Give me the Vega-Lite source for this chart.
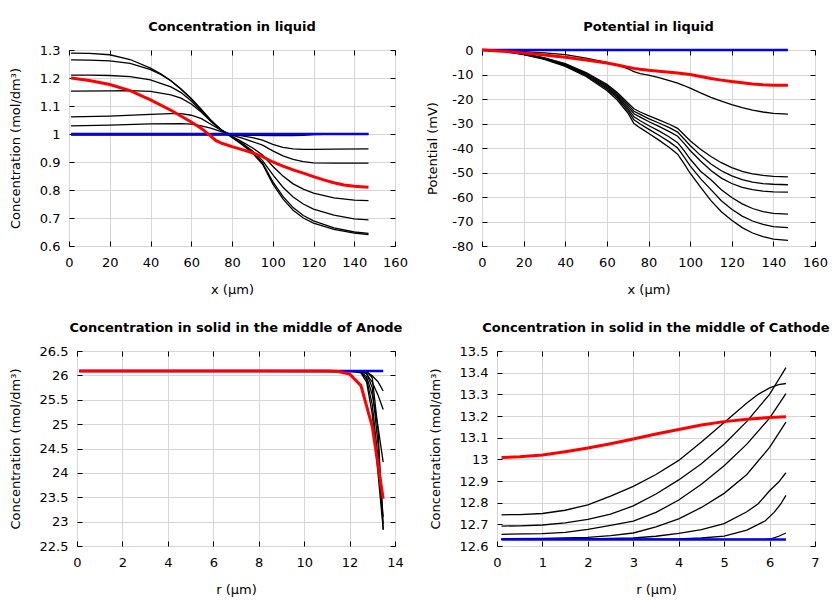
{
"$schema": "https://vega.github.io/schema/vega-lite/v6.json",
"padding": {"left": 8, "top": 20, "right": 5, "bottom": 5},
"config": {
 "font": "DejaVu Sans",
 "view": {"stroke": "#000", "strokeWidth": 1},
 "axis": {"labelFont": "DejaVu Sans", "titleFont": "DejaVu Sans", "labelFontSize": 13, "titleFontSize": 13, "titleFontWeight": "normal", "labelColor": "#000", "titleColor": "#000", "tickColor": "#000", "gridColor": "#d6d6d6", "domain": false, "labelFlush": false, "labelOverlap": false, "labelBound": false, "tickSize": -5, "format": "~r"},
 "title": {"font": "DejaVu Sans", "fontSize": 13, "fontWeight": "bold", "color": "#000", "frame": "group", "anchor": "middle", "offset": 10}
},
"datasets": {
 "liq": [
  {"s":"b0","k":"b","x":1,"y":0.996},{"s":"b0","k":"b","x":60,"y":0.996},{"s":"b0","k":"b","x":72,"y":0.996},{"s":"b0","k":"b","x":80,"y":0.996},{"s":"b0","k":"b","x":90,"y":0.995},{"s":"b0","k":"b","x":100,"y":0.994},{"s":"b0","k":"b","x":110,"y":0.994},{"s":"b0","k":"b","x":115,"y":0.995},{"s":"b0","k":"b","x":120,"y":0.998},{"s":"b0","k":"b","x":130,"y":1.0},{"s":"b0","k":"b","x":147,"y":1.0},
  {"s":"c1","k":"b","x":1,"y":1.289},{"s":"c1","k":"b","x":10,"y":1.288},{"s":"c1","k":"b","x":20,"y":1.283},{"s":"c1","k":"b","x":30,"y":1.266},{"s":"c1","k":"b","x":40,"y":1.235},{"s":"c1","k":"b","x":45,"y":1.215},{"s":"c1","k":"b","x":50,"y":1.19},{"s":"c1","k":"b","x":55,"y":1.16},{"s":"c1","k":"b","x":60,"y":1.125},{"s":"c1","k":"b","x":65,"y":1.085},{"s":"c1","k":"b","x":70,"y":1.045},{"s":"c1","k":"b","x":75,"y":1.012},{"s":"c1","k":"b","x":80,"y":0.988},{"s":"c1","k":"b","x":85,"y":0.962},{"s":"c1","k":"b","x":90,"y":0.932},{"s":"c1","k":"b","x":95,"y":0.892},{"s":"c1","k":"b","x":100,"y":0.822},{"s":"c1","k":"b","x":105,"y":0.768},{"s":"c1","k":"b","x":110,"y":0.728},{"s":"c1","k":"b","x":115,"y":0.7},{"s":"c1","k":"b","x":120,"y":0.682},{"s":"c1","k":"b","x":130,"y":0.659},{"s":"c1","k":"b","x":140,"y":0.646},{"s":"c1","k":"b","x":147,"y":0.641},
  {"s":"c2","k":"b","x":1,"y":1.265},{"s":"c2","k":"b","x":10,"y":1.264},{"s":"c2","k":"b","x":20,"y":1.261},{"s":"c2","k":"b","x":30,"y":1.252},{"s":"c2","k":"b","x":40,"y":1.23},{"s":"c2","k":"b","x":45,"y":1.213},{"s":"c2","k":"b","x":50,"y":1.19},{"s":"c2","k":"b","x":55,"y":1.161},{"s":"c2","k":"b","x":60,"y":1.127},{"s":"c2","k":"b","x":65,"y":1.088},{"s":"c2","k":"b","x":70,"y":1.047},{"s":"c2","k":"b","x":75,"y":1.013},{"s":"c2","k":"b","x":80,"y":0.989},{"s":"c2","k":"b","x":85,"y":0.964},{"s":"c2","k":"b","x":90,"y":0.935},{"s":"c2","k":"b","x":95,"y":0.897},{"s":"c2","k":"b","x":100,"y":0.83},{"s":"c2","k":"b","x":105,"y":0.777},{"s":"c2","k":"b","x":110,"y":0.737},{"s":"c2","k":"b","x":115,"y":0.709},{"s":"c2","k":"b","x":120,"y":0.69},{"s":"c2","k":"b","x":130,"y":0.665},{"s":"c2","k":"b","x":140,"y":0.65},{"s":"c2","k":"b","x":147,"y":0.645},
  {"s":"c3","k":"b","x":1,"y":1.21},{"s":"c3","k":"b","x":10,"y":1.21},{"s":"c3","k":"b","x":20,"y":1.209},{"s":"c3","k":"b","x":30,"y":1.205},{"s":"c3","k":"b","x":40,"y":1.193},{"s":"c3","k":"b","x":50,"y":1.168},{"s":"c3","k":"b","x":55,"y":1.148},{"s":"c3","k":"b","x":60,"y":1.118},{"s":"c3","k":"b","x":65,"y":1.08},{"s":"c3","k":"b","x":70,"y":1.043},{"s":"c3","k":"b","x":75,"y":1.013},{"s":"c3","k":"b","x":80,"y":0.99},{"s":"c3","k":"b","x":85,"y":0.967},{"s":"c3","k":"b","x":90,"y":0.94},{"s":"c3","k":"b","x":95,"y":0.905},{"s":"c3","k":"b","x":100,"y":0.855},{"s":"c3","k":"b","x":105,"y":0.81},{"s":"c3","k":"b","x":110,"y":0.775},{"s":"c3","k":"b","x":115,"y":0.75},{"s":"c3","k":"b","x":120,"y":0.732},{"s":"c3","k":"b","x":130,"y":0.71},{"s":"c3","k":"b","x":140,"y":0.697},{"s":"c3","k":"b","x":147,"y":0.693},
  {"s":"c4","k":"b","x":1,"y":1.153},{"s":"c4","k":"b","x":20,"y":1.154},{"s":"c4","k":"b","x":30,"y":1.155},{"s":"c4","k":"b","x":40,"y":1.152},{"s":"c4","k":"b","x":50,"y":1.14},{"s":"c4","k":"b","x":55,"y":1.128},{"s":"c4","k":"b","x":60,"y":1.107},{"s":"c4","k":"b","x":65,"y":1.078},{"s":"c4","k":"b","x":70,"y":1.043},{"s":"c4","k":"b","x":75,"y":1.014},{"s":"c4","k":"b","x":80,"y":0.992},{"s":"c4","k":"b","x":85,"y":0.972},{"s":"c4","k":"b","x":90,"y":0.951},{"s":"c4","k":"b","x":95,"y":0.925},{"s":"c4","k":"b","x":100,"y":0.885},{"s":"c4","k":"b","x":105,"y":0.85},{"s":"c4","k":"b","x":110,"y":0.822},{"s":"c4","k":"b","x":115,"y":0.803},{"s":"c4","k":"b","x":120,"y":0.789},{"s":"c4","k":"b","x":130,"y":0.772},{"s":"c4","k":"b","x":140,"y":0.764},{"s":"c4","k":"b","x":147,"y":0.762},
  {"s":"c5","k":"b","x":1,"y":1.061},{"s":"c5","k":"b","x":20,"y":1.064},{"s":"c5","k":"b","x":40,"y":1.07},{"s":"c5","k":"b","x":50,"y":1.073},{"s":"c5","k":"b","x":55,"y":1.073},{"s":"c5","k":"b","x":60,"y":1.067},{"s":"c5","k":"b","x":65,"y":1.055},{"s":"c5","k":"b","x":70,"y":1.033},{"s":"c5","k":"b","x":75,"y":1.012},{"s":"c5","k":"b","x":80,"y":0.996},{"s":"c5","k":"b","x":85,"y":0.985},{"s":"c5","k":"b","x":90,"y":0.973},{"s":"c5","k":"b","x":95,"y":0.96},{"s":"c5","k":"b","x":100,"y":0.94},{"s":"c5","k":"b","x":105,"y":0.922},{"s":"c5","k":"b","x":110,"y":0.909},{"s":"c5","k":"b","x":115,"y":0.901},{"s":"c5","k":"b","x":120,"y":0.897},{"s":"c5","k":"b","x":130,"y":0.896},{"s":"c5","k":"b","x":147,"y":0.896},
  {"s":"c6","k":"b","x":1,"y":1.029},{"s":"c6","k":"b","x":20,"y":1.032},{"s":"c6","k":"b","x":40,"y":1.036},{"s":"c6","k":"b","x":55,"y":1.037},{"s":"c6","k":"b","x":60,"y":1.035},{"s":"c6","k":"b","x":65,"y":1.029},{"s":"c6","k":"b","x":70,"y":1.02},{"s":"c6","k":"b","x":75,"y":1.008},{"s":"c6","k":"b","x":80,"y":0.999},{"s":"c6","k":"b","x":85,"y":0.993},{"s":"c6","k":"b","x":90,"y":0.987},{"s":"c6","k":"b","x":95,"y":0.978},{"s":"c6","k":"b","x":100,"y":0.963},{"s":"c6","k":"b","x":105,"y":0.952},{"s":"c6","k":"b","x":110,"y":0.947},{"s":"c6","k":"b","x":115,"y":0.945},{"s":"c6","k":"b","x":120,"y":0.945},{"s":"c6","k":"b","x":130,"y":0.946},{"s":"c6","k":"b","x":147,"y":0.947},
  {"s":"bl","k":"u","x":1,"y":1.0},{"s":"bl","k":"u","x":147,"y":1.0},
  {"s":"rd","k":"r","x":1,"y":1.2},{"s":"rd","k":"r","x":10,"y":1.191},{"s":"rd","k":"r","x":20,"y":1.177},{"s":"rd","k":"r","x":30,"y":1.155},{"s":"rd","k":"r","x":40,"y":1.122},{"s":"rd","k":"r","x":50,"y":1.085},{"s":"rd","k":"r","x":60,"y":1.043},{"s":"rd","k":"r","x":65,"y":1.02},{"s":"rd","k":"r","x":70,"y":0.99},{"s":"rd","k":"r","x":72,"y":0.977},{"s":"rd","k":"r","x":75,"y":0.967},{"s":"rd","k":"r","x":80,"y":0.955},{"s":"rd","k":"r","x":85,"y":0.944},{"s":"rd","k":"r","x":90,"y":0.933},{"s":"rd","k":"r","x":95,"y":0.919},{"s":"rd","k":"r","x":100,"y":0.9},{"s":"rd","k":"r","x":105,"y":0.885},{"s":"rd","k":"r","x":110,"y":0.872},{"s":"rd","k":"r","x":115,"y":0.86},{"s":"rd","k":"r","x":120,"y":0.848},{"s":"rd","k":"r","x":125,"y":0.836},{"s":"rd","k":"r","x":130,"y":0.826},{"s":"rd","k":"r","x":135,"y":0.818},{"s":"rd","k":"r","x":140,"y":0.813},{"s":"rd","k":"r","x":147,"y":0.81}
 ],
 "pot": [
  {"s":"A","k":"b","x":0,"y":0},{"s":"A","k":"b","x":10,"y":-0.4},{"s":"A","k":"b","x":20,"y":-1.5},{"s":"A","k":"b","x":30,"y":-3.2},{"s":"A","k":"b","x":40,"y":-5.6},{"s":"A","k":"b","x":50,"y":-9.2},{"s":"A","k":"b","x":60,"y":-14},{"s":"A","k":"b","x":65,"y":-17.3},{"s":"A","k":"b","x":70,"y":-21.5},{"s":"A","k":"b","x":73,"y":-24},{"s":"A","k":"b","x":76,"y":-25.3},{"s":"A","k":"b","x":80,"y":-26.8},{"s":"A","k":"b","x":85,"y":-28.5},{"s":"A","k":"b","x":90,"y":-30.3},{"s":"A","k":"b","x":94,"y":-32},{"s":"A","k":"b","x":97,"y":-34.5},{"s":"A","k":"b","x":100,"y":-37},{"s":"A","k":"b","x":105,"y":-40.5},{"s":"A","k":"b","x":110,"y":-43.5},{"s":"A","k":"b","x":115,"y":-46},{"s":"A","k":"b","x":120,"y":-48},{"s":"A","k":"b","x":125,"y":-49.5},{"s":"A","k":"b","x":130,"y":-50.6},{"s":"A","k":"b","x":135,"y":-51.2},{"s":"A","k":"b","x":140,"y":-51.6},{"s":"A","k":"b","x":147,"y":-51.8},
  {"s":"B","k":"b","x":0,"y":0},{"s":"B","k":"b","x":10,"y":-0.4},{"s":"B","k":"b","x":20,"y":-1.6},{"s":"B","k":"b","x":30,"y":-3.3},{"s":"B","k":"b","x":40,"y":-5.8},{"s":"B","k":"b","x":50,"y":-9.5},{"s":"B","k":"b","x":60,"y":-14.4},{"s":"B","k":"b","x":65,"y":-17.8},{"s":"B","k":"b","x":70,"y":-22.2},{"s":"B","k":"b","x":73,"y":-25},{"s":"B","k":"b","x":76,"y":-26.3},{"s":"B","k":"b","x":80,"y":-28},{"s":"B","k":"b","x":85,"y":-29.8},{"s":"B","k":"b","x":90,"y":-31.7},{"s":"B","k":"b","x":94,"y":-33.5},{"s":"B","k":"b","x":97,"y":-36.2},{"s":"B","k":"b","x":100,"y":-39},{"s":"B","k":"b","x":105,"y":-43},{"s":"B","k":"b","x":110,"y":-46.5},{"s":"B","k":"b","x":115,"y":-49.3},{"s":"B","k":"b","x":120,"y":-51.4},{"s":"B","k":"b","x":125,"y":-52.9},{"s":"B","k":"b","x":130,"y":-53.9},{"s":"B","k":"b","x":135,"y":-54.5},{"s":"B","k":"b","x":140,"y":-54.8},{"s":"B","k":"b","x":147,"y":-55},
  {"s":"C","k":"b","x":0,"y":0},{"s":"C","k":"b","x":10,"y":-0.4},{"s":"C","k":"b","x":20,"y":-1.6},{"s":"C","k":"b","x":30,"y":-3.4},{"s":"C","k":"b","x":40,"y":-6},{"s":"C","k":"b","x":50,"y":-9.8},{"s":"C","k":"b","x":60,"y":-14.9},{"s":"C","k":"b","x":65,"y":-18.4},{"s":"C","k":"b","x":70,"y":-23},{"s":"C","k":"b","x":73,"y":-26},{"s":"C","k":"b","x":76,"y":-27.4},{"s":"C","k":"b","x":80,"y":-29.2},{"s":"C","k":"b","x":85,"y":-31.2},{"s":"C","k":"b","x":90,"y":-33.3},{"s":"C","k":"b","x":94,"y":-35.2},{"s":"C","k":"b","x":97,"y":-38},{"s":"C","k":"b","x":100,"y":-41},{"s":"C","k":"b","x":105,"y":-45.3},{"s":"C","k":"b","x":110,"y":-49.2},{"s":"C","k":"b","x":115,"y":-52.3},{"s":"C","k":"b","x":120,"y":-54.5},{"s":"C","k":"b","x":125,"y":-56.1},{"s":"C","k":"b","x":130,"y":-57},{"s":"C","k":"b","x":135,"y":-57.6},{"s":"C","k":"b","x":140,"y":-57.9},{"s":"C","k":"b","x":147,"y":-58},
  {"s":"D","k":"b","x":0,"y":0},{"s":"D","k":"b","x":10,"y":-0.4},{"s":"D","k":"b","x":20,"y":-1.7},{"s":"D","k":"b","x":30,"y":-3.5},{"s":"D","k":"b","x":40,"y":-6.2},{"s":"D","k":"b","x":50,"y":-10.1},{"s":"D","k":"b","x":60,"y":-15.4},{"s":"D","k":"b","x":65,"y":-19},{"s":"D","k":"b","x":70,"y":-23.8},{"s":"D","k":"b","x":73,"y":-27.3},{"s":"D","k":"b","x":76,"y":-28.9},{"s":"D","k":"b","x":80,"y":-30.8},{"s":"D","k":"b","x":85,"y":-33},{"s":"D","k":"b","x":90,"y":-35.5},{"s":"D","k":"b","x":94,"y":-37.8},{"s":"D","k":"b","x":97,"y":-41},{"s":"D","k":"b","x":100,"y":-44.5},{"s":"D","k":"b","x":105,"y":-49.5},{"s":"D","k":"b","x":110,"y":-53},{"s":"D","k":"b","x":115,"y":-57},{"s":"D","k":"b","x":120,"y":-60.2},{"s":"D","k":"b","x":125,"y":-62.8},{"s":"D","k":"b","x":130,"y":-64.7},{"s":"D","k":"b","x":135,"y":-66},{"s":"D","k":"b","x":140,"y":-66.7},{"s":"D","k":"b","x":147,"y":-67},
  {"s":"E","k":"b","x":0,"y":0},{"s":"E","k":"b","x":10,"y":-0.4},{"s":"E","k":"b","x":20,"y":-1.8},{"s":"E","k":"b","x":30,"y":-3.6},{"s":"E","k":"b","x":40,"y":-6.4},{"s":"E","k":"b","x":50,"y":-10.4},{"s":"E","k":"b","x":60,"y":-15.9},{"s":"E","k":"b","x":65,"y":-19.6},{"s":"E","k":"b","x":70,"y":-24.6},{"s":"E","k":"b","x":73,"y":-28.5},{"s":"E","k":"b","x":76,"y":-30.2},{"s":"E","k":"b","x":80,"y":-32.3},{"s":"E","k":"b","x":85,"y":-34.8},{"s":"E","k":"b","x":90,"y":-37.5},{"s":"E","k":"b","x":94,"y":-40},{"s":"E","k":"b","x":97,"y":-43.5},{"s":"E","k":"b","x":100,"y":-47.3},{"s":"E","k":"b","x":105,"y":-52.5},{"s":"E","k":"b","x":110,"y":-57},{"s":"E","k":"b","x":115,"y":-61.5},{"s":"E","k":"b","x":120,"y":-65},{"s":"E","k":"b","x":125,"y":-67.8},{"s":"E","k":"b","x":130,"y":-69.8},{"s":"E","k":"b","x":135,"y":-71.2},{"s":"E","k":"b","x":140,"y":-72.1},{"s":"E","k":"b","x":147,"y":-72.5},
  {"s":"F","k":"b","x":0,"y":0},{"s":"F","k":"b","x":10,"y":-0.5},{"s":"F","k":"b","x":20,"y":-1.9},{"s":"F","k":"b","x":30,"y":-3.8},{"s":"F","k":"b","x":40,"y":-6.7},{"s":"F","k":"b","x":50,"y":-10.8},{"s":"F","k":"b","x":60,"y":-16.5},{"s":"F","k":"b","x":65,"y":-20.4},{"s":"F","k":"b","x":70,"y":-25.6},{"s":"F","k":"b","x":73,"y":-30},{"s":"F","k":"b","x":76,"y":-31.8},{"s":"F","k":"b","x":80,"y":-34},{"s":"F","k":"b","x":85,"y":-36.8},{"s":"F","k":"b","x":90,"y":-39.8},{"s":"F","k":"b","x":94,"y":-42.5},{"s":"F","k":"b","x":97,"y":-46.3},{"s":"F","k":"b","x":100,"y":-50.3},{"s":"F","k":"b","x":105,"y":-56},{"s":"F","k":"b","x":110,"y":-61.5},{"s":"F","k":"b","x":115,"y":-66},{"s":"F","k":"b","x":120,"y":-69.5},{"s":"F","k":"b","x":125,"y":-72.5},{"s":"F","k":"b","x":130,"y":-74.7},{"s":"F","k":"b","x":135,"y":-76.2},{"s":"F","k":"b","x":140,"y":-77.2},{"s":"F","k":"b","x":147,"y":-77.7},
  {"s":"G","k":"b","x":0,"y":0},{"s":"G","k":"b","x":10,"y":-0.2},{"s":"G","k":"b","x":20,"y":-0.7},{"s":"G","k":"b","x":30,"y":-1.2},{"s":"G","k":"b","x":40,"y":-1.9},{"s":"G","k":"b","x":50,"y":-3.3},{"s":"G","k":"b","x":60,"y":-5.1},{"s":"G","k":"b","x":65,"y":-6.2},{"s":"G","k":"b","x":70,"y":-7.6},{"s":"G","k":"b","x":73,"y":-8.8},{"s":"G","k":"b","x":76,"y":-9.6},{"s":"G","k":"b","x":80,"y":-10.3},{"s":"G","k":"b","x":85,"y":-11.3},{"s":"G","k":"b","x":90,"y":-12.5},{"s":"G","k":"b","x":94,"y":-13.5},{"s":"G","k":"b","x":97,"y":-14.5},{"s":"G","k":"b","x":100,"y":-15.6},{"s":"G","k":"b","x":105,"y":-17.5},{"s":"G","k":"b","x":110,"y":-19.3},{"s":"G","k":"b","x":115,"y":-20.9},{"s":"G","k":"b","x":120,"y":-22.3},{"s":"G","k":"b","x":125,"y":-23.5},{"s":"G","k":"b","x":130,"y":-24.5},{"s":"G","k":"b","x":135,"y":-25.3},{"s":"G","k":"b","x":140,"y":-25.9},{"s":"G","k":"b","x":147,"y":-26.2},
  {"s":"bl","k":"u","x":0,"y":0},{"s":"bl","k":"u","x":147,"y":0},
  {"s":"rd","k":"r","x":0,"y":0},{"s":"rd","k":"r","x":10,"y":-0.5},{"s":"rd","k":"r","x":20,"y":-1.2},{"s":"rd","k":"r","x":30,"y":-2.0},{"s":"rd","k":"r","x":40,"y":-3.0},{"s":"rd","k":"r","x":50,"y":-4.1},{"s":"rd","k":"r","x":60,"y":-5.3},{"s":"rd","k":"r","x":65,"y":-6.1},{"s":"rd","k":"r","x":70,"y":-7.0},{"s":"rd","k":"r","x":73,"y":-7.5},{"s":"rd","k":"r","x":76,"y":-7.9},{"s":"rd","k":"r","x":80,"y":-8.3},{"s":"rd","k":"r","x":85,"y":-8.7},{"s":"rd","k":"r","x":90,"y":-9.1},{"s":"rd","k":"r","x":94,"y":-9.4},{"s":"rd","k":"r","x":97,"y":-9.7},{"s":"rd","k":"r","x":100,"y":-10.0},{"s":"rd","k":"r","x":105,"y":-10.8},{"s":"rd","k":"r","x":110,"y":-11.6},{"s":"rd","k":"r","x":115,"y":-12.3},{"s":"rd","k":"r","x":120,"y":-12.9},{"s":"rd","k":"r","x":125,"y":-13.4},{"s":"rd","k":"r","x":130,"y":-13.9},{"s":"rd","k":"r","x":135,"y":-14.2},{"s":"rd","k":"r","x":140,"y":-14.4},{"s":"rd","k":"r","x":147,"y":-14.4}
 ],
 "an": [
  {"s":"B1","k":"b","x":0.1,"y":26.09},{"s":"B1","k":"b","x":12.5,"y":26.09},{"s":"B1","k":"b","x":12.75,"y":26.07},{"s":"B1","k":"b","x":13.0,"y":25.99},{"s":"B1","k":"b","x":13.25,"y":25.87},{"s":"B1","k":"b","x":13.48,"y":25.68},
  {"s":"B2","k":"b","x":0.1,"y":26.09},{"s":"B2","k":"b","x":12.25,"y":26.09},{"s":"B2","k":"b","x":12.5,"y":26.08},{"s":"B2","k":"b","x":12.75,"y":26.03},{"s":"B2","k":"b","x":13.0,"y":25.86},{"s":"B2","k":"b","x":13.25,"y":25.6},{"s":"B2","k":"b","x":13.48,"y":25.3},
  {"s":"B3","k":"b","x":0.1,"y":26.09},{"s":"B3","k":"b","x":12.25,"y":26.09},{"s":"B3","k":"b","x":12.5,"y":26.07},{"s":"B3","k":"b","x":12.75,"y":25.97},{"s":"B3","k":"b","x":13.0,"y":25.6},{"s":"B3","k":"b","x":13.25,"y":24.95},{"s":"B3","k":"b","x":13.48,"y":24.22},
  {"s":"B4","k":"b","x":0.1,"y":26.09},{"s":"B4","k":"b","x":12.25,"y":26.085},{"s":"B4","k":"b","x":12.5,"y":26.06},{"s":"B4","k":"b","x":12.75,"y":25.92},{"s":"B4","k":"b","x":13.0,"y":25.4},{"s":"B4","k":"b","x":13.25,"y":24.3},{"s":"B4","k":"b","x":13.48,"y":23.1},
  {"s":"B5","k":"b","x":0.1,"y":26.09},{"s":"B5","k":"b","x":12.0,"y":26.09},{"s":"B5","k":"b","x":12.5,"y":26.05},{"s":"B5","k":"b","x":12.75,"y":25.86},{"s":"B5","k":"b","x":13.0,"y":25.2},{"s":"B5","k":"b","x":13.25,"y":24.0},{"s":"B5","k":"b","x":13.48,"y":22.85},
  {"s":"B6","k":"b","x":0.1,"y":26.09},{"s":"B6","k":"b","x":12.5,"y":26.08},{"s":"B6","k":"b","x":12.75,"y":26.04},{"s":"B6","k":"b","x":13.0,"y":25.75},{"s":"B6","k":"b","x":13.25,"y":24.6},{"s":"B6","k":"b","x":13.48,"y":22.95},
  {"s":"B7","k":"b","x":0.1,"y":26.09},{"s":"B7","k":"b","x":12.75,"y":26.08},{"s":"B7","k":"b","x":13.0,"y":25.95},{"s":"B7","k":"b","x":13.25,"y":24.9},{"s":"B7","k":"b","x":13.48,"y":22.83},
  {"s":"bl","k":"u","x":0.1,"y":26.09},{"s":"bl","k":"u","x":13.48,"y":26.09},
  {"s":"rd","k":"r","x":0.1,"y":26.09},{"s":"rd","k":"r","x":11.0,"y":26.09},{"s":"rd","k":"r","x":11.5,"y":26.08},{"s":"rd","k":"r","x":12.0,"y":26.03},{"s":"rd","k":"r","x":12.5,"y":25.79},{"s":"rd","k":"r","x":13.0,"y":24.95},{"s":"rd","k":"r","x":13.48,"y":23.47}
 ],
 "ca": [
  {"s":"L1","k":"b","x":0.1,"y":12.744},{"s":"L1","k":"b","x":0.5,"y":12.745},{"s":"L1","k":"b","x":1,"y":12.75},{"s":"L1","k":"b","x":1.5,"y":12.765},{"s":"L1","k":"b","x":2,"y":12.79},{"s":"L1","k":"b","x":2.5,"y":12.83},{"s":"L1","k":"b","x":3,"y":12.875},{"s":"L1","k":"b","x":3.5,"y":12.93},{"s":"L1","k":"b","x":4,"y":12.995},{"s":"L1","k":"b","x":4.5,"y":13.08},{"s":"L1","k":"b","x":5,"y":13.17},{"s":"L1","k":"b","x":5.5,"y":13.26},{"s":"L1","k":"b","x":5.75,"y":13.3},{"s":"L1","k":"b","x":6,"y":13.33},{"s":"L1","k":"b","x":6.2,"y":13.345},{"s":"L1","k":"b","x":6.36,"y":13.35},
  {"s":"L2","k":"b","x":0.1,"y":12.692},{"s":"L2","k":"b","x":0.5,"y":12.693},{"s":"L2","k":"b","x":1,"y":12.697},{"s":"L2","k":"b","x":1.5,"y":12.707},{"s":"L2","k":"b","x":2,"y":12.723},{"s":"L2","k":"b","x":2.5,"y":12.747},{"s":"L2","k":"b","x":3,"y":12.785},{"s":"L2","k":"b","x":3.5,"y":12.84},{"s":"L2","k":"b","x":4,"y":12.905},{"s":"L2","k":"b","x":4.5,"y":12.98},{"s":"L2","k":"b","x":5,"y":13.07},{"s":"L2","k":"b","x":5.5,"y":13.175},{"s":"L2","k":"b","x":6,"y":13.3},{"s":"L2","k":"b","x":6.36,"y":13.423},
  {"s":"L3","k":"b","x":0.1,"y":12.654},{"s":"L3","k":"b","x":1,"y":12.657},{"s":"L3","k":"b","x":1.5,"y":12.663},{"s":"L3","k":"b","x":2,"y":12.677},{"s":"L3","k":"b","x":2.5,"y":12.695},{"s":"L3","k":"b","x":3,"y":12.715},{"s":"L3","k":"b","x":3.5,"y":12.755},{"s":"L3","k":"b","x":4,"y":12.812},{"s":"L3","k":"b","x":4.5,"y":12.885},{"s":"L3","k":"b","x":5,"y":12.97},{"s":"L3","k":"b","x":5.5,"y":13.07},{"s":"L3","k":"b","x":6,"y":13.19},{"s":"L3","k":"b","x":6.36,"y":13.303},
  {"s":"L4","k":"b","x":0.1,"y":12.634},{"s":"L4","k":"b","x":1,"y":12.635},{"s":"L4","k":"b","x":2,"y":12.64},{"s":"L4","k":"b","x":2.5,"y":12.648},{"s":"L4","k":"b","x":3,"y":12.66},{"s":"L4","k":"b","x":3.5,"y":12.688},{"s":"L4","k":"b","x":4,"y":12.725},{"s":"L4","k":"b","x":4.5,"y":12.778},{"s":"L4","k":"b","x":5,"y":12.843},{"s":"L4","k":"b","x":5.5,"y":12.93},{"s":"L4","k":"b","x":6,"y":13.055},{"s":"L4","k":"b","x":6.36,"y":13.172},
  {"s":"L5","k":"b","x":0.1,"y":12.632},{"s":"L5","k":"b","x":2,"y":12.633},{"s":"L5","k":"b","x":3,"y":12.637},{"s":"L5","k":"b","x":3.5,"y":12.645},{"s":"L5","k":"b","x":4,"y":12.658},{"s":"L5","k":"b","x":4.5,"y":12.676},{"s":"L5","k":"b","x":5,"y":12.703},{"s":"L5","k":"b","x":5.5,"y":12.758},{"s":"L5","k":"b","x":5.75,"y":12.795},{"s":"L5","k":"b","x":6,"y":12.855},{"s":"L5","k":"b","x":6.2,"y":12.895},{"s":"L5","k":"b","x":6.36,"y":12.938},
  {"s":"L6","k":"b","x":0.1,"y":12.631},{"s":"L6","k":"b","x":4,"y":12.633},{"s":"L6","k":"b","x":4.5,"y":12.637},{"s":"L6","k":"b","x":5,"y":12.646},{"s":"L6","k":"b","x":5.5,"y":12.673},{"s":"L6","k":"b","x":5.9,"y":12.715},{"s":"L6","k":"b","x":6.1,"y":12.755},{"s":"L6","k":"b","x":6.25,"y":12.795},{"s":"L6","k":"b","x":6.36,"y":12.834},
  {"s":"L7","k":"b","x":0.1,"y":12.631},{"s":"L7","k":"b","x":5.9,"y":12.631},{"s":"L7","k":"b","x":6.05,"y":12.634},{"s":"L7","k":"b","x":6.2,"y":12.645},{"s":"L7","k":"b","x":6.36,"y":12.66},
  {"s":"bl","k":"u","x":0.1,"y":12.63},{"s":"bl","k":"u","x":6.36,"y":12.63},
  {"s":"rd","k":"r","x":0.1,"y":13.008},{"s":"rd","k":"r","x":0.5,"y":13.012},{"s":"rd","k":"r","x":1,"y":13.02},{"s":"rd","k":"r","x":1.5,"y":13.035},{"s":"rd","k":"r","x":2,"y":13.052},{"s":"rd","k":"r","x":2.5,"y":13.072},{"s":"rd","k":"r","x":3,"y":13.094},{"s":"rd","k":"r","x":3.5,"y":13.117},{"s":"rd","k":"r","x":4,"y":13.138},{"s":"rd","k":"r","x":4.5,"y":13.158},{"s":"rd","k":"r","x":5,"y":13.174},{"s":"rd","k":"r","x":5.5,"y":13.185},{"s":"rd","k":"r","x":6,"y":13.193},{"s":"rd","k":"r","x":6.36,"y":13.196}
 ]
},
"vconcat": [
 {
  "hconcat": [
   {
    "width": 326, "height": 196,
    "title": {"text": "Concentration in liquid"},
    "data": {"name": "liq"},
    "layer": [
     {"transform": [{"filter": "datum.k == 'b'"}], "mark": {"type": "line", "color": "#000", "strokeWidth": 1.3},
      "encoding": {
       "x": {"field": "x", "type": "quantitative", "scale": {"domain": [0, 160], "nice": false, "zero": false}, "axis": {"values": [0,20,40,60,80,100,120,140,160], "title": "x (µm)", "grid": true, "labelPadding": 15, "titlePadding": 14}},
       "y": {"field": "y", "type": "quantitative", "scale": {"domain": [0.6, 1.3], "nice": false, "zero": false}, "axis": {"values": [0.6,0.7,0.8,0.9,1,1.1,1.2,1.3], "title": "Concentration (mol/dm³)", "grid": true, "labelPadding": 14, "titlePadding": 17}},
       "detail": {"field": "s"}}},
     {"transform": [{"filter": "datum.k == 'u'"}], "mark": {"type": "line", "color": "#0000ff", "strokeWidth": 2.5},
      "encoding": {"x": {"field": "x", "type": "quantitative", "axis": null}, "y": {"field": "y", "type": "quantitative", "axis": null}}},
     {"transform": [{"filter": "datum.k == 'r'"}], "mark": {"type": "line", "color": "#ff0000", "strokeWidth": 3},
      "encoding": {"x": {"field": "x", "type": "quantitative", "axis": null}, "y": {"field": "y", "type": "quantitative", "axis": null}}},
     {"transform": [{"filter": "datum.k == 'u'"}], "mark": {"type": "line", "opacity": 0},
      "encoding": {"x": {"field": "x", "type": "quantitative", "axis": {"orient": "top", "values": [0,20,40,60,80,100,120,140,160], "labels": false, "title": null, "grid": false}},
                   "y": {"field": "y", "type": "quantitative", "axis": {"orient": "right", "values": [0.6,0.7,0.8,0.9,1,1.1,1.2,1.3], "labels": false, "title": null, "grid": false}}}}
    ],
    "resolve": {"axis": {"x": "independent", "y": "independent"}}
   },
   {
    "width": 333, "height": 196,
    "title": {"text": "Potential in liquid"},
    "data": {"name": "pot"},
    "layer": [
     {"transform": [{"filter": "datum.k == 'b'"}], "mark": {"type": "line", "color": "#000", "strokeWidth": 1.3},
      "encoding": {
       "x": {"field": "x", "type": "quantitative", "scale": {"domain": [0, 160], "nice": false, "zero": false}, "axis": {"values": [0,20,40,60,80,100,120,140,160], "title": "x (µm)", "grid": true, "labelPadding": 15, "titlePadding": 14}},
       "y": {"field": "y", "type": "quantitative", "scale": {"domain": [-80, 0], "nice": false, "zero": false}, "axis": {"values": [-80,-70,-60,-50,-40,-30,-20,-10,0], "labelExpr": "'' + datum.value", "title": "Potential (mV)", "grid": true, "labelPadding": 14, "titlePadding": 12}},
       "detail": {"field": "s"}}},
     {"transform": [{"filter": "datum.k == 'u'"}], "mark": {"type": "line", "color": "#0000ff", "strokeWidth": 2.5},
      "encoding": {"x": {"field": "x", "type": "quantitative", "axis": null}, "y": {"field": "y", "type": "quantitative", "axis": null}}},
     {"transform": [{"filter": "datum.k == 'r'"}], "mark": {"type": "line", "color": "#ff0000", "strokeWidth": 3},
      "encoding": {"x": {"field": "x", "type": "quantitative", "axis": null}, "y": {"field": "y", "type": "quantitative", "axis": null}}},
     {"transform": [{"filter": "datum.k == 'u'"}], "mark": {"type": "line", "opacity": 0},
      "encoding": {"x": {"field": "x", "type": "quantitative", "axis": {"orient": "top", "values": [0,20,40,60,80,100,120,140,160], "labels": false, "title": null, "grid": false}},
                   "y": {"field": "y", "type": "quantitative", "axis": {"orient": "right", "values": [-80,-70,-60,-50,-40,-30,-20,-10,0], "labels": false, "title": null, "grid": false}}}}
    ],
    "resolve": {"axis": {"x": "independent", "y": "independent"}}
   }
  ],
  "spacing": 87,
  "bounds": "flush"
 },
 {
  "hconcat": [
   {"width": 8, "height": 195, "view": {"stroke": null}, "data": {"values": [{"a": 0}]}, "mark": {"type": "point", "opacity": 0}, "encoding": {}},
   {
    "hconcat": [
     {
      "width": 318, "height": 195,
      "title": {"text": "Concentration in solid in the middle of Anode"},
      "data": {"name": "an"},
      "layer": [
       {"transform": [{"filter": "datum.k == 'b'"}], "mark": {"type": "line", "color": "#000", "strokeWidth": 1.3},
        "encoding": {
         "x": {"field": "x", "type": "quantitative", "scale": {"domain": [0, 14], "nice": false, "zero": false}, "axis": {"values": [0,2,4,6,8,10,12,14], "title": "r (µm)", "grid": true, "labelPadding": 15, "titlePadding": 14}},
         "y": {"field": "y", "type": "quantitative", "scale": {"domain": [22.5, 26.5], "nice": false, "zero": false}, "axis": {"values": [22.5,23,23.5,24,24.5,25,25.5,26,26.5], "title": "Concentration (mol/dm³)", "grid": true, "labelPadding": 14, "titlePadding": 17}},
         "detail": {"field": "s"}}},
       {"transform": [{"filter": "datum.k == 'u'"}], "mark": {"type": "line", "color": "#0000ff", "strokeWidth": 2.5},
        "encoding": {"x": {"field": "x", "type": "quantitative", "axis": null}, "y": {"field": "y", "type": "quantitative", "axis": null}}},
       {"transform": [{"filter": "datum.k == 'r'"}], "mark": {"type": "line", "color": "#ff0000", "strokeWidth": 3},
        "encoding": {"x": {"field": "x", "type": "quantitative", "axis": null}, "y": {"field": "y", "type": "quantitative", "axis": null}}},
       {"transform": [{"filter": "datum.k == 'u'"}], "mark": {"type": "line", "opacity": 0},
        "encoding": {"x": {"field": "x", "type": "quantitative", "axis": {"orient": "top", "values": [0,2,4,6,8,10,12,14], "labels": false, "title": null, "grid": false}},
                     "y": {"field": "y", "type": "quantitative", "axis": {"orient": "right", "values": [22.5,23,23.5,24,24.5,25,25.5,26,26.5], "labels": false, "title": null, "grid": false}}}}
      ],
      "resolve": {"axis": {"x": "independent", "y": "independent"}}
     },
     {
      "width": 318, "height": 195,
      "title": {"text": "Concentration in solid in the middle of Cathode"},
      "data": {"name": "ca"},
      "layer": [
       {"transform": [{"filter": "datum.k == 'b'"}], "mark": {"type": "line", "color": "#000", "strokeWidth": 1.3},
        "encoding": {
         "x": {"field": "x", "type": "quantitative", "scale": {"domain": [0, 7], "nice": false, "zero": false}, "axis": {"values": [0,1,2,3,4,5,6,7], "title": "r (µm)", "grid": true, "labelPadding": 15, "titlePadding": 14}},
         "y": {"field": "y", "type": "quantitative", "scale": {"domain": [12.6, 13.5], "nice": false, "zero": false}, "axis": {"values": [12.6,12.7,12.8,12.9,13,13.1,13.2,13.3,13.4,13.5], "title": "Concentration (mol/dm³)", "grid": true, "labelPadding": 14, "titlePadding": 17}},
         "detail": {"field": "s"}}},
       {"transform": [{"filter": "datum.k == 'u'"}], "mark": {"type": "line", "color": "#0000ff", "strokeWidth": 2.5},
        "encoding": {"x": {"field": "x", "type": "quantitative", "axis": null}, "y": {"field": "y", "type": "quantitative", "axis": null}}},
       {"transform": [{"filter": "datum.k == 'r'"}], "mark": {"type": "line", "color": "#ff0000", "strokeWidth": 3},
        "encoding": {"x": {"field": "x", "type": "quantitative", "axis": null}, "y": {"field": "y", "type": "quantitative", "axis": null}}},
       {"transform": [{"filter": "datum.k == 'u'"}], "mark": {"type": "line", "opacity": 0},
        "encoding": {"x": {"field": "x", "type": "quantitative", "axis": {"orient": "top", "values": [0,1,2,3,4,5,6,7], "labels": false, "title": null, "grid": false}},
                     "y": {"field": "y", "type": "quantitative", "axis": {"orient": "right", "values": [12.6,12.7,12.8,12.9,13,13.1,13.2,13.3,13.4,13.5], "labels": false, "title": null, "grid": false}}}}
      ],
      "resolve": {"axis": {"x": "independent", "y": "independent"}}
     }
    ],
    "spacing": 102,
    "bounds": "flush"
   }
  ],
  "spacing": 0,
  "bounds": "flush"
 }
],
"spacing": 301,
"bounds": "flush"
}
